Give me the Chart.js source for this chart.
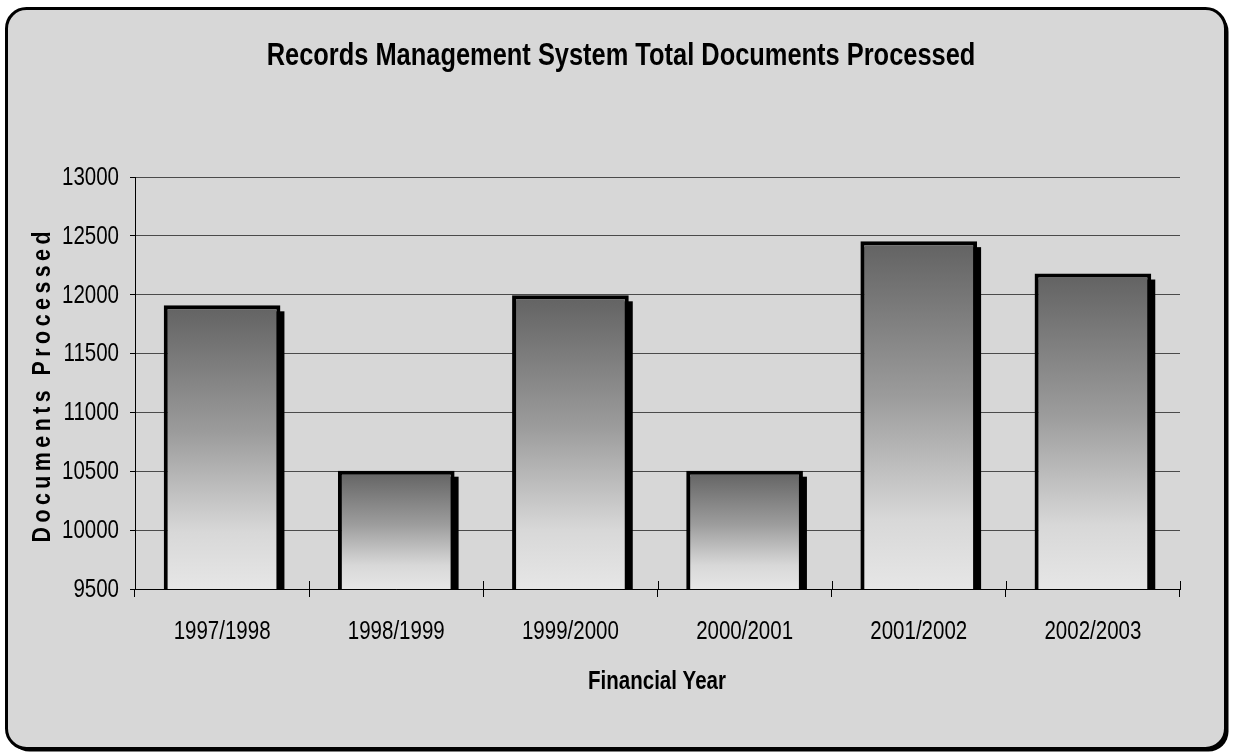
<!DOCTYPE html>
<html>
<head>
<meta charset="utf-8">
<title>Records Management System Total Documents Processed</title>
<script src="https://cdn.jsdelivr.net/npm/chart.js@4.4.1/dist/chart.umd.min.js"></script>
<style>
    html, body { margin: 0; padding: 0; background: #fff; }
    #wrap { width: 1235px; height: 756px; position: relative; }
</style>
</head>
<body>
<div id="wrap"><canvas id="chart"></canvas></div>
<script>
// Data
const chartTitle = 'Records Management System Total Documents Processed';
const xAxisTitle = 'Financial Year';
const yAxisTitle = 'Documents Processed';
const financialYears = ['1997/1998', '1998/1999', '1999/2000', '2000/2001', '2001/2002', '2002/2003'];
const documentsProcessed = [11910, 10505, 11995, 10505, 12455, 12180];
const yTickValues = [9500, 10000, 10500, 11000, 11500, 12000, 12500, 13000];

// The original text is a narrow sans; squeeze a regular face if the narrow one is missing
function hasFont(name) {
    const c = document.createElement('canvas').getContext('2d');
    const probe = '1997/1998 Records Wm';
    c.font = '40px monospace';
    const a = c.measureText(probe).width;
    c.font = `40px "${name}", monospace`;
    return c.measureText(probe).width !== a;
}
const narrowOk = hasFont('Liberation Sans Narrow');
const FAMILY = narrowOk ? '"Liberation Sans Narrow", "Liberation Sans", Arial, sans-serif'
                        : '"Liberation Sans", Arial, sans-serif';
const SQUEEZE = narrowOk ? 1 : 0.82;

function narrowText(ctx, text, x, y, font, align) {
    ctx.save();
    ctx.translate(x, y);
    ctx.scale(SQUEEZE, 1);
    ctx.font = font;
    ctx.textAlign = align || 'center';
    ctx.textBaseline = 'middle';
    ctx.fillText(text, 0, 0);
    ctx.restore();
}

// Rounded frame with a drop shadow, and all the text
const framePlugin = {
    id: 'frame',
    beforeDraw(chart) {
        const ctx = chart.ctx;
        const w = chart.width, h = chart.height;
        ctx.save();
        ctx.fillStyle = '#fff';
        ctx.fillRect(0, 0, w, h);

        ctx.beginPath();
        ctx.roundRect(9.5, 11.5, w - 16, h - 16, 20);
        ctx.fillStyle = '#000';
        ctx.fill();

        ctx.beginPath();
        ctx.roundRect(6.5, 8.5, w - 16, h - 16, 20);
        ctx.fillStyle = '#d7d7d7';
        ctx.fill();
        ctx.lineWidth = 3;
        ctx.strokeStyle = '#000';
        ctx.stroke();
        ctx.restore();
    },
    afterDraw(chart) {
        const ctx = chart.ctx;
        const xs = chart.scales.x, ys = chart.scales.y;
        ctx.save();

        // category tick marks also poke up into the plot a little
        ctx.strokeStyle = '#000';
        ctx.lineWidth = 1;
        const step = xs.width / financialYears.length;
        for (let i = 0; i <= financialYears.length; i++) {
            const bx = Math.round(xs.left + i * step) + 0.5;
            ctx.beginPath();
            ctx.moveTo(bx, xs.top - 8);
            ctx.lineTo(bx, xs.top);
            ctx.stroke();
        }

        ctx.fillStyle = '#000';
        narrowText(ctx, chartTitle, 621, 56, `bold 31px ${FAMILY}`);
        narrowText(ctx, xAxisTitle, 657, 682, `bold 25px ${FAMILY}`);

        // tick labels
        financialYears.forEach((label, i) => {
            narrowText(ctx, label, xs.getPixelForTick(i), 632, `25px ${FAMILY}`);
        });
        yTickValues.forEach(v => {
            narrowText(ctx, String(v), 119, ys.getPixelForValue(v) + 1, `25px ${FAMILY}`, 'right');
        });

        // spaced-out rotated y title
        ctx.translate(43, 387);
        ctx.rotate(-Math.PI / 2);
        ctx.font = `bold 26px ${FAMILY}`;
        ctx.textBaseline = 'middle';
        ctx.textAlign = 'left';
        const chars = yAxisTitle.split('');
        const widths = chars.map(ch => ctx.measureText(ch).width * SQUEEZE);
        const total = 311;
        const gap = (total - widths.reduce((s, v) => s + v, 0)) / (chars.length - 1);
        let x = -total / 2;
        chars.forEach((ch, i) => {
            ctx.save();
            ctx.translate(x, 0);
            ctx.scale(SQUEEZE, 1);
            ctx.fillText(ch, 0, 0);
            ctx.restore();
            x += widths[i] + gap;
        });
        ctx.restore();
    }
};

// Offset black shadow behind each bar
const barShadow = {
    id: 'barShadow',
    beforeDatasetsDraw(chart) {
        const ctx = chart.ctx;
        const area = chart.chartArea;
        ctx.save();
        ctx.beginPath();
        ctx.rect(area.left, area.top, area.right - area.left, area.bottom - area.top);
        ctx.clip();
        ctx.fillStyle = '#000';
        chart.getDatasetMeta(0).data.forEach(bar => {
            const left = bar.x - bar.width / 2;
            ctx.fillRect(left + 4, bar.y + 6, bar.width, bar.base - bar.y);
        });
        ctx.restore();
    }
};

function barGradient(c) {
    const chart = c.chart;
    if (!chart.chartArea || c.type !== 'data') return '#999';
    const y = chart.scales.y;
    const top = y.getPixelForValue(c.raw);
    const bottom = y.getPixelForValue(y.min);
    const g = chart.ctx.createLinearGradient(0, top, 0, bottom);
    g.addColorStop(0, '#626262');
    g.addColorStop(0.45, '#9c9c9c');
    g.addColorStop(0.8, '#d8d8d8');
    g.addColorStop(1, '#e6e6e6');
    return g;
}

const hidden = 'rgba(0,0,0,0)';

new Chart(document.getElementById('chart'), {
    type: 'bar',
    data: {
        labels: financialYears,
        datasets: [{
            label: yAxisTitle,
            data: documentsProcessed,
            backgroundColor: barGradient,
            borderColor: '#000',
            borderWidth: 4,
            borderSkipped: false,
            barPercentage: 0.67,
            categoryPercentage: 1
        }]
    },
    options: {
        responsive: true,
        maintainAspectRatio: false,
        animation: false,
        layout: { padding: { top: 177, right: 55, left: 0, bottom: 0 } },
        plugins: {
            legend: { display: false },
            title: { display: false },
            tooltip: { enabled: false }
        },
        scales: {
            x: {
                afterFit: (scale) => { scale.height = 167; },
                grid: { drawOnChartArea: false, drawTicks: true, tickLength: 8, color: '#000', offset: true },
                border: { display: true, color: '#000', width: 1 },
                // labels are drawn by the frame plugin in the narrow style
                ticks: { color: hidden, padding: 20, font: { family: FAMILY, size: 20 } },
                title: { display: false }
            },
            y: {
                min: yTickValues[0],
                max: yTickValues[yTickValues.length - 1],
                afterFit: (scale) => { scale.width = 135; },
                afterBuildTicks: (scale) => { scale.ticks = yTickValues.map(v => ({ value: v })); },
                grid: { color: '#4a4a4a', lineWidth: 1, tickLength: 5, tickColor: '#000' },
                border: { display: true, color: '#000', width: 1 },
                ticks: { color: hidden, padding: 11, font: { family: FAMILY, size: 20 } },
                title: { display: false }
            }
        }
    },
    plugins: [framePlugin, barShadow]
});
</script>
</body>
</html>
